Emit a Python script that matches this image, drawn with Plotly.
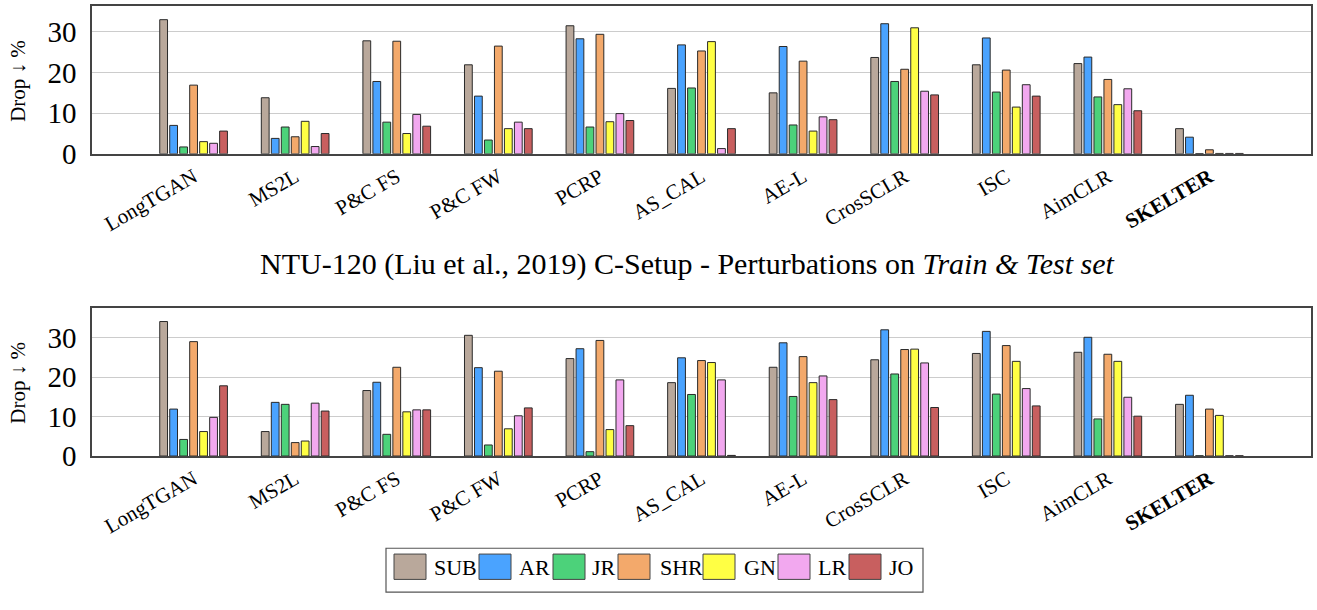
import plotly.graph_objects as go

categories = ["LongTGAN", "MS2L", "P&C FS", "P&C FW", "PCRP", "AS_CAL", "AE-L",
              "CrosSCLR", "ISC", "AimCLR", "SKELTER"]
series_names = ["SUB", "AR", "JR", "SHR", "GN", "LR", "JO"]
colors = ["#b9a89b", "#4aa3ff", "#4cd27a", "#f3a96b", "#ffff44", "#f2a8ef", "#c85f5f"]

# Top chart
top_SUB = [33.0, 13.8, 27.8, 21.9, 31.5, 16.1, 15.0, 23.7, 21.9, 22.2, 6.2]
top_AR  = [7.0, 3.8, 17.8, 14.2, 28.3, 26.8, 26.4, 32.0, 28.5, 23.8, 4.1]
top_JR  = [1.7, 6.6, 7.8, 3.4, 6.6, 16.2, 7.1, 17.8, 15.2, 14.0, 0.05]
top_SHR = [16.9, 4.2, 27.7, 26.5, 29.4, 25.3, 22.8, 20.8, 20.6, 18.3, 1.0]
top_GN  = [3.0, 8.0, 5.0, 6.2, 7.9, 27.6, 5.6, 31.0, 11.5, 12.1, 0.1]
top_LR  = [2.6, 1.8, 9.7, 7.8, 9.9, 1.3, 9.1, 15.4, 17.0, 16.0, 0.1]
top_JO  = [5.6, 5.0, 6.8, 6.2, 8.2, 6.2, 8.4, 14.5, 14.2, 10.6, 0.1]

# Bottom chart (Train & Test set)
bot_SUB = [34.1, 6.2, 16.6, 30.6, 24.7, 18.6, 22.5, 24.4, 26.0, 26.3, 13.1]
bot_AR  = [11.9, 13.6, 18.7, 22.4, 27.2, 24.9, 28.7, 32.0, 31.6, 30.1, 15.4]
bot_JR  = [4.2, 13.1, 5.5, 2.8, 1.1, 15.6, 15.1, 20.8, 15.7, 9.4, 0.05]
bot_SHR = [29.0, 3.4, 22.5, 21.5, 29.3, 24.2, 25.2, 27.0, 28.0, 25.8, 11.9]
bot_GN  = [6.2, 3.8, 11.2, 6.9, 6.7, 23.7, 18.6, 27.1, 24.0, 24.0, 10.3]
bot_LR  = [9.8, 13.4, 11.7, 10.2, 19.3, 19.3, 20.3, 23.6, 17.1, 14.9, 0.05]
bot_JO  = [17.8, 11.4, 11.7, 12.2, 7.7, 0.15, 14.3, 12.3, 12.7, 10.1, 0.05]

y_ticks = [0, 10, 20, 30]
title_text = "NTU-120 (Liu et al., 2019) C-Setup - Perturbations on <i>Train &amp; Test set</i>"
y_title = "Drop ↓ %"

top_series = [top_SUB, top_AR, top_JR, top_SHR, top_GN, top_LR, top_JO]
bot_series = [bot_SUB, bot_AR, bot_JR, bot_SHR, bot_GN, bot_LR, bot_JO]

W, H = 1317, 610
FONT = "Liberation Serif, Times New Roman, DejaVu Serif, serif"

fig = go.Figure()
for name, col, vals in zip(series_names, colors, top_series):
    fig.add_trace(go.Bar(x=categories, y=vals, name=name, marker_color=col,
                         marker_line=dict(color="#2a2a2a", width=1),
                         xaxis="x", yaxis="y", showlegend=False))
for name, col, vals in zip(series_names, colors, bot_series):
    fig.add_trace(go.Bar(x=categories, y=vals, name=name, marker_color=col,
                         marker_line=dict(color="#2a2a2a", width=1),
                         xaxis="x2", yaxis="y2", showlegend=False))

ticktext = ["<b>%s</b>" % c if c == "SKELTER" else c for c in categories]

def px_x(x):
    return x / W

def px_y(y):
    return 1 - y / H

xdom = [px_x(92), px_x(1311)]
xcommon = dict(domain=xdom, type="category", range=[-1, 11.0],
               tickvals=categories, ticktext=ticktext, tickangle=-30,
               tickfont=dict(family=FONT, size=21, color="black"),
               showline=True, mirror=True, linecolor="#444", linewidth=1.5,
               showgrid=False, ticks="", ticklabelstandoff=1)
ycommon = dict(tickvals=y_ticks, tickfont=dict(family=FONT, size=29, color="black"),
               showline=True, mirror=True, linecolor="#444", linewidth=1.5,
               showgrid=True, gridcolor="#cccccc", gridwidth=1, zeroline=False,
               ticks="", ticklabelstandoff=8)

fig.update_layout(
    width=W, height=H,
    margin=dict(l=0, r=0, t=0, b=0),
    paper_bgcolor="white", plot_bgcolor="white",
    font=dict(family=FONT),
    barmode="group", bargap=0.312, bargroupgap=0.22,
    xaxis=dict(**xcommon, anchor="y"),
    yaxis=dict(**ycommon, domain=[px_y(158), px_y(6)], range=[0, 36.4], anchor="x"),
    xaxis2=dict(**xcommon, anchor="y2"),
    yaxis2=dict(**ycommon, domain=[px_y(468.3), px_y(316)], range=[0, 37.6], anchor="x2"),
    showlegend=False,
)

annotations = [
    dict(text=title_text, x=px_x(687), y=px_y(271), xref="paper", yref="paper",
         showarrow=False, font=dict(family=FONT, size=30, color="black"),
         xanchor="center", yanchor="middle"),
    dict(text=y_title, x=px_x(18), y=px_y(83), xref="paper", yref="paper",
         showarrow=False, textangle=-90, font=dict(family=FONT, size=21, color="black"),
         xanchor="center", yanchor="middle"),
    dict(text=y_title, x=px_x(18), y=px_y(393), xref="paper", yref="paper",
         showarrow=False, textangle=-90, font=dict(family=FONT, size=21, color="black"),
         xanchor="center", yanchor="middle"),
]

# Custom legend (box, swatches, labels)
shapes = [dict(type="rect", xref="paper", yref="paper",
               x0=px_x(386), x1=px_x(923), y0=px_y(608), y1=px_y(563),
               line=dict(color="#555", width=1.2), fillcolor="white")]
swatch_left = [394, 479, 553, 618, 703, 778, 849]
label_left = [432, 517, 590, 658, 742, 816, 887]
for name, col, sx, lx in zip(series_names, colors, swatch_left, label_left):
    shapes.append(dict(type="rect", xref="paper", yref="paper",
                       x0=px_x(sx), x1=px_x(sx + 32), y0=px_y(595), y1=px_y(569),
                       line=dict(color="#444", width=1), fillcolor=col))
    annotations.append(dict(text=name, x=px_x(lx), y=px_y(583), xref="paper", yref="paper",
                            showarrow=False, xanchor="left", yanchor="middle",
                            font=dict(family=FONT, size=22, color="black")))

fig.update_layout(shapes=shapes, annotations=annotations)
fig.write_html("out.html")
